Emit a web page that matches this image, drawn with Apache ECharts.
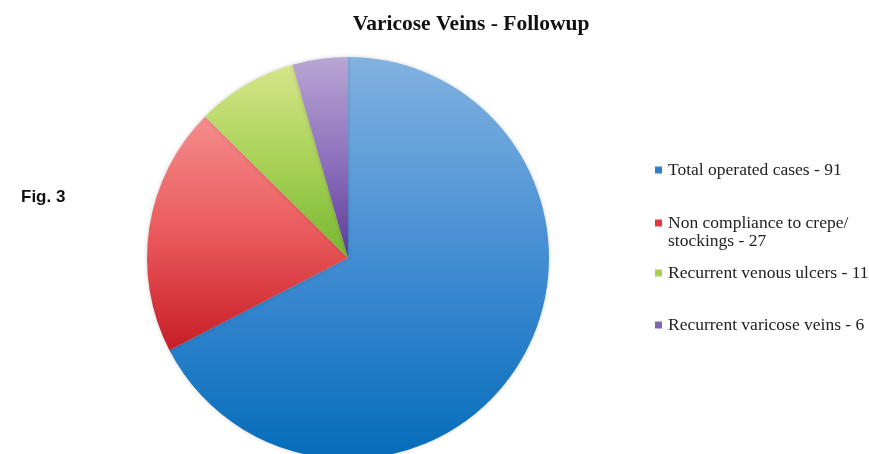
<!DOCTYPE html>
<html>
<head>
<meta charset="utf-8">
<script src="https://cdn.jsdelivr.net/npm/echarts@6/dist/echarts.min.js"></script>
<style>
  html, body { margin: 0; padding: 0; background: #fff; }
  #chart { width: 869px; height: 454px; }
</style>
</head>
<body>
<div id="chart"></div>
<script>
// Follow-up outcome categories and their case counts
const categories = [
  'Total operated cases - 91',
  'Non compliance to crepe/\nstockings - 27',
  'Recurrent venous ulcers - 11',
  'Recurrent varicose veins - 6'
];
const counts = [91, 27, 11, 6];

// Top, middle and bottom shade for each slice
const topShades = ['#82b2e0', '#f58c8c', '#d6e58a', '#b8a6d3'];
const midShades = ['#438dd3', '#ea5a5c', '#a9d257', '#8f72be'];
const bottomShades = ['#046cba', '#c71d27', '#76b730', '#5c3a98'];
const legendIcons = ['#2f7fc9', '#e0393f', '#a6d04e', '#8063b3'];

const legendTops = [161, 214, 264, 316];

function grad(i) {
  return new echarts.graphic.LinearGradient(0, 0, 0, 1, [
    { offset: 0, color: topShades[i] },
    { offset: 0.5, color: midShades[i] },
    { offset: 1, color: bottomShades[i] }
  ]);
}

const chart = echarts.init(document.getElementById('chart'), null, { renderer: 'canvas' });

const serif = '"Liberation Serif", "DejaVu Serif", serif';

chart.setOption({
  animation: false,
  title: {
    text: 'Varicose Veins - Followup',
    left: 466,
    top: 8,
    textAlign: 'center',
    textStyle: { fontFamily: serif, fontWeight: 'bold', fontSize: 21.5, color: '#111' }
  },
  legend: categories.map((name, i) => ({
    data: [{ name: name, itemStyle: { color: legendIcons[i] } }],
    orient: 'vertical',
    left: 655,
    top: legendTops[i],
    // square marker sits on the first text line
    icon: i === 1 ? 'path://M0,0H7V7H0ZM0,25' : 'rect',
    itemWidth: 7,
    itemHeight: i === 1 ? 25 : 7,
    itemGap: 0,
    padding: 0,
    selectedMode: false,
    textStyle: { fontFamily: serif, fontSize: 17.5, color: '#222', lineHeight: 18, padding: [0, 0, 0, 1] }
  })),
  graphic: [{
    type: 'text',
    left: 21,
    top: 189,
    style: { text: 'Fig. 3', font: 'bold 17px "Liberation Sans", Arial, sans-serif', fill: '#111' }
  }],
  series: [{
    type: 'pie',
    center: [348, 258],
    radius: [0, 201],
    startAngle: 90,
    clockwise: true,
    label: { show: false },
    labelLine: { show: false },
    silent: true,
    itemStyle: { shadowBlur: 4, shadowColor: 'rgba(0,0,0,0.18)' },
    data: categories.map((name, i) => ({
      name: name,
      value: counts[i],
      itemStyle: { color: grad(i) }
    }))
  }]
});
</script>
</body>
</html>
